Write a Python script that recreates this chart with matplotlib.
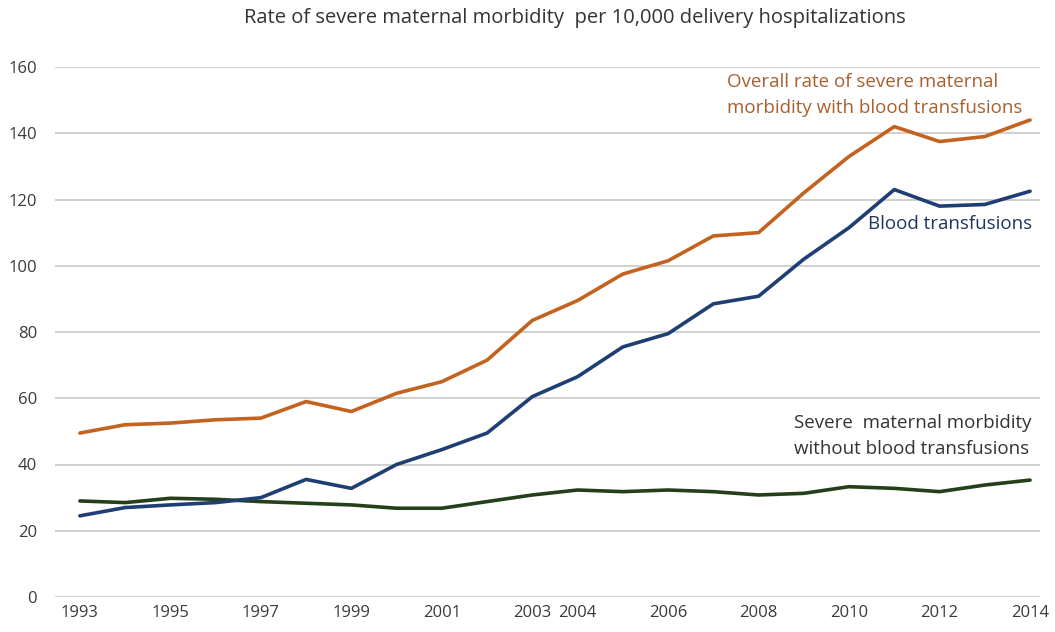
import matplotlib
matplotlib.use("Agg")
import matplotlib.pyplot as plt

years = list(range(1993, 2015))
overall = [49.5, 52, 52.5, 53.5, 54, 59, 56, 61.5, 65, 71.5, 83.5, 89.5, 97.5, 101.5,
           109, 110, 122, 133, 142, 137.5, 139, 144]
blood = [24.5, 27, 27.8, 28.5, 30, 35.5, 32.8, 40, 44.5, 49.5, 60.5, 66.5, 75.5, 79.5,
         88.5, 90.8, 102, 111.5, 123, 118, 118.5, 122.5]
without = [29, 28.5, 29.8, 29.5, 28.8, 28.3, 27.8, 26.8, 26.8, 28.8, 30.8, 32.3, 31.8,
           32.3, 31.8, 30.8, 31.3, 33.3, 32.8, 31.8, 33.8, 35.3]
xtick_years = [1993, 1995, 1997, 1999, 2001, 2003, 2004, 2006, 2008, 2010, 2012, 2014]
yticks = [0, 20, 40, 60, 80, 100, 120, 140, 160]

plt.rcParams['font.family'] = ['Open Sans', 'DejaVu Sans']

fig = plt.figure(figsize=(10.55, 6.32), dpi=100)
ax = fig.add_axes([55/1055, 1 - 597/632, (1040-55)/1055, (597-67)/632])

c_or = '#C4621F'
c_bl = '#1F3E73'
c_gr = '#24401A'

ax.plot(years, overall, color=c_or, lw=2.6, solid_capstyle='round', zorder=3)
ax.plot(years, without, color=c_gr, lw=2.6, solid_capstyle='round', zorder=3)
ax.plot(years, blood, color=c_bl, lw=2.6, solid_capstyle='round', zorder=4)

ax.set_xlim(1992.45, 2014.22)
ax.set_ylim(0, 160)
ax.set_yticks(yticks)
ax.set_xticks(xtick_years)
ax.set_xticklabels([str(y) for y in xtick_years])
ax.grid(axis='y', color='#C8C8C8', lw=1.2)
ax.set_axisbelow(True)
for s in ax.spines.values():
    s.set_visible(False)
ax.tick_params(length=0, labelsize=12, colors='#3A3A3A')
ax.tick_params(axis='y', pad=13)
ax.tick_params(axis='x', pad=6)

afs = 13.5
ax.text(2007.3, 155.5, "Overall rate of severe maternal",
        color='#A8602E', fontsize=afs, ha='left', va='center')
ax.text(2007.3, 147.6, "morbidity with blood transfusions",
        color='#A8602E', fontsize=afs, ha='left', va='center')
ax.text(2010.42, 112.6, "Blood transfusions", color='#1F3560', fontsize=afs,
        ha='left', va='center')
ax.text(2008.78, 52.5, "Severe  maternal morbidity",
        color='#333333', fontsize=afs, ha='left', va='center')
ax.text(2008.78, 44.7, "without blood transfusions",
        color='#333333', fontsize=afs, ha='left', va='center')

fig.text(575/1055, 1 - 18/632, "Rate of severe maternal morbidity  per 10,000 delivery hospitalizations",
         ha='center', va='center', fontsize=14.5, color='#333333')

fig.savefig('out.png', dpi=100)
